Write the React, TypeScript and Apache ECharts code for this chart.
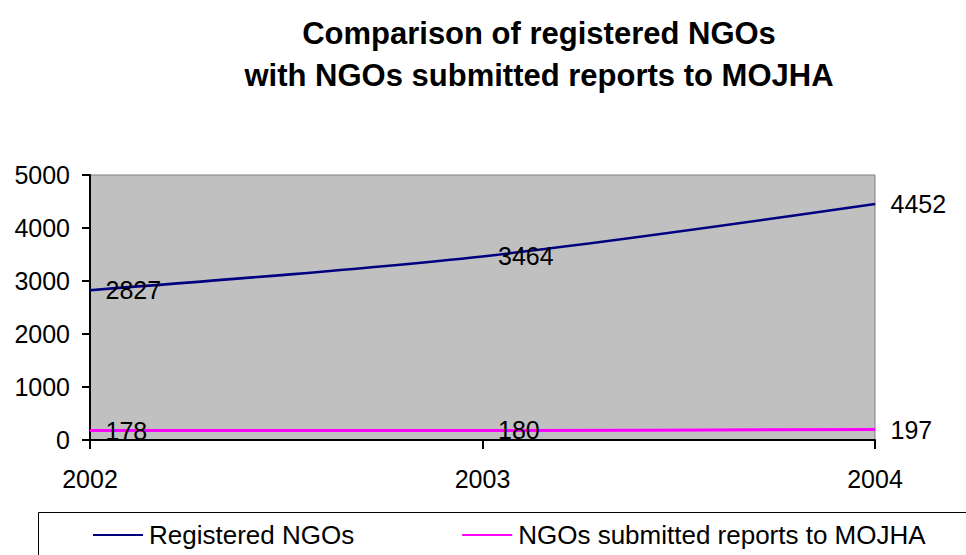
import React, { useEffect, useRef } from "react";
import * as echarts from "echarts";

const years = ["2002", "2003", "2004"];
const registeredNGOs = [2827, 3464, 4452];
const reportingNGOs = [178, 180, 197];
const titleLines = ["Comparison of registered NGOs", "with NGOs submitted reports to MOJHA"];
const seriesNames = ["Registered NGOs", "NGOs submitted reports to MOJHA"];

const FONT = 'Arial, "Liberation Sans", sans-serif';

export default function App() {
  const ref = useRef<HTMLDivElement>(null);
  useEffect(() => {
    if (!ref.current) return;
    const chart = echarts.init(ref.current, null, { renderer: "svg" });
    const labelStyle = {
      show: true,
      position: "right" as const,
      distance: 15,
      color: "#000",
      fontSize: 25,
      fontFamily: FONT,
    };
    chart.setOption({
      animation: false,
      backgroundColor: "#fff",
      graphic: [
        {
          type: "text",
          x: 539,
          y: 12,
          style: {
            text: titleLines.join("\n"),
            textAlign: "center",
            textVerticalAlign: "top",
            fontSize: 31,
            fontWeight: "bold",
            fontFamily: FONT,
            fill: "#000",
            lineHeight: 42,
          },
        },
        {
          type: "rect",
          z: -1,
          shape: { x: 38.5, y: 512.5, width: 1000, height: 100 },
          style: { fill: "none", stroke: "#000", lineWidth: 1 },
        },
      ],
      legend: {
        left: 93,
        top: 522,
        padding: 0,
        width: 860,
        itemWidth: 50,
        itemHeight: 2,
        itemGap: 108,
        icon: "rect",
        textStyle: { fontSize: 26, fontFamily: FONT, color: "#000", padding: [0, 0, 0, 1] },
        data: seriesNames,
      },
      grid: {
        left: 90,
        right: 91,
        top: 175,
        bottom: 115,
        show: true,
        backgroundColor: "#C0C0C0",
        borderColor: "#808080",
        borderWidth: 1,
      },
      xAxis: {
        type: "category",
        data: years,
        boundaryGap: false,
        axisLine: { lineStyle: { color: "#000", width: 2 } },
        axisTick: { show: true, length: 9, lineStyle: { color: "#000", width: 2 } },
        axisLabel: { color: "#000", fontSize: 25, fontFamily: FONT, margin: 26 },
        splitLine: { show: false },
      },
      yAxis: {
        type: "value",
        min: 0,
        max: 5000,
        interval: 1000,
        axisLine: { show: true, lineStyle: { color: "#000", width: 2 } },
        axisTick: { show: true, length: 8, lineStyle: { color: "#000", width: 2 } },
        axisLabel: {
          color: "#000",
          fontSize: 25,
          fontFamily: FONT,
          margin: 20,
          formatter: (v: number) => String(v),
        },
        splitLine: { show: false },
      },
      series: [
        {
          name: seriesNames[0],
          type: "line",
          data: registeredNGOs,
          smooth: 0.3,
          symbol: "circle",
          symbolSize: 1,
          color: "#000080",
          itemStyle: { color: "#000080" },
          lineStyle: { color: "#000080", width: 2.5 },
          label: labelStyle,
        },
        {
          name: seriesNames[1],
          type: "line",
          data: reportingNGOs,
          smooth: 0.3,
          symbol: "circle",
          symbolSize: 1,
          color: "#FF00FF",
          itemStyle: { color: "#FF00FF" },
          lineStyle: { color: "#FF00FF", width: 3 },
          label: labelStyle,
        },
      ],
    });
    return () => chart.dispose();
  }, []);
  return <div ref={ref} style={{ width: 966, height: 555, position: "absolute", left: 0, top: 0 }} />;
}
